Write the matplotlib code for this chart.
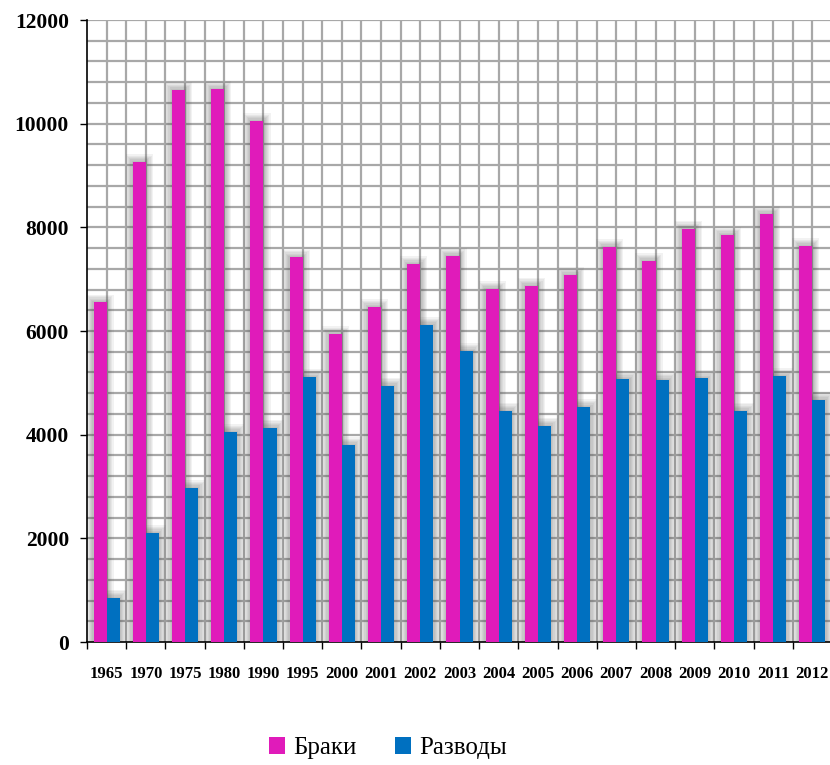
import matplotlib
matplotlib.use("Agg")
import matplotlib.pyplot as plt
import numpy as np
from matplotlib.ticker import MultipleLocator, FixedLocator, NullFormatter

years = ["1965", "1970", "1975", "1980", "1990", "1995", "2000", "2001", "2002", "2003",
         "2004", "2005", "2006", "2007", "2008", "2009", "2010", "2011", "2012"]
marriages = [6550, 9260, 10650, 10670, 10050, 7420, 5940, 6460, 7290, 7450,
             6810, 6870, 7080, 7620, 7350, 7970, 7850, 8260, 7640]
divorces = [850, 2100, 2970, 4050, 4130, 5110, 3800, 4940, 6115, 5610,
            4460, 4170, 4530, 5070, 5050, 5090, 4460, 5130, 4670]

c_mar = "#E01BBA"
c_div = "#0070C0"

fig = plt.figure(figsize=(8.3, 7.65), dpi=100)
ax = fig.add_axes([87/830, 123/765, 745/830, 622/765])

x = np.arange(len(years))
w = 1/3

# soft shadows
for k in range(1, 7):
    ext = 0.03 * k
    for off, vals in ((-w/2, marriages), (w/2, divorces)):
        ax.bar(x + off, np.array(vals) + 25 * k, width=w + 2*ext, color="#505050",
               alpha=0.07, zorder=2, linewidth=0)

ax.bar(x - w/2, marriages, width=w, color=c_mar, zorder=3, label="Браки", linewidth=0)
ax.bar(x + w/2, divorces, width=w, color=c_div, zorder=3, label="Разводы", linewidth=0)

ax.set_xlim(-0.5, len(years) - 0.5)
ax.set_ylim(0, 12000)

# grid
for yy in np.arange(400, 12001, 400):
    ax.axhline(yy, color="#A8A8A8", lw=1.6, zorder=1)
for xx in np.arange(-0.5, len(years) - 0.4, 0.5)[1:]:
    ax.axvline(xx, color="#A8A8A8", lw=1.6, zorder=1)

ax.yaxis.set_major_locator(MultipleLocator(2000))
ax.tick_params(axis="y", direction="out", length=5, width=1, pad=8)
ax.xaxis.set_major_locator(FixedLocator(np.arange(-0.5, len(years), 1.0)))
ax.xaxis.set_major_formatter(NullFormatter())
ax.xaxis.set_minor_locator(FixedLocator(x))
ax.set_xticks(x, years, minor=True)
ax.tick_params(axis="x", which="major", direction="out", length=5, width=1)
ax.tick_params(axis="x", which="minor", length=0, pad=17)

for lab in ax.get_yticklabels():
    lab.set_fontfamily("Liberation Serif")
    lab.set_fontweight("bold")
    lab.set_fontsize(15.5)
for lab in ax.get_xticklabels(minor=True):
    lab.set_fontfamily("Liberation Serif")
    lab.set_fontweight("bold")
    lab.set_fontsize(12)

for s in ("top", "right"):
    ax.spines[s].set_visible(False)
ax.spines["left"].set_linewidth(1.2)
ax.spines["bottom"].set_linewidth(1.2)

leg = fig.legend(loc="center", bbox_to_anchor=(388/830, 1 - 748/765), ncol=2, frameon=False,
                 prop={"family": "Liberation Serif", "size": 18},
                 handlelength=0.65, handleheight=0.65, handletextpad=0.35, columnspacing=1.5)

fig.savefig("out.png", dpi=100)
